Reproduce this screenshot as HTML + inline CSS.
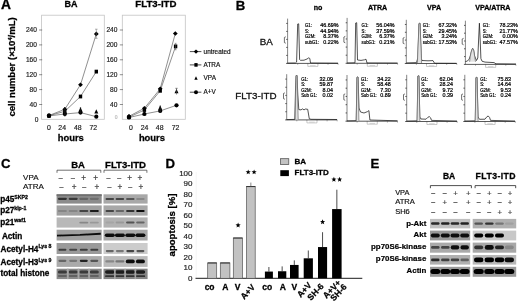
<!DOCTYPE html>
<html><head><meta charset="utf-8"><style>
html,body{margin:0;padding:0;background:#fff;}
body{width:520px;height:301px;overflow:hidden;}
svg{display:block;will-change:transform;font-family:"Liberation Sans", sans-serif;}
</style></head><body>
<svg width="520" height="301" viewBox="0 0 520 301">
<defs><filter id="bl" x="-20%" y="-50%" width="140%" height="200%"><feGaussianBlur stdDeviation="0.6"/></filter></defs>
<rect width="520" height="301" fill="#fff"/>
<text x="1.0" y="9.2" font-size="13.8" font-weight="bold" fill="#000" stroke="#000" stroke-width="0.28">A</text>
<text x="71" y="7.0" font-size="9" font-weight="bold" text-anchor="middle" fill="#000" stroke="#000" stroke-width="0.28">BA</text>
<text x="155.9" y="7.0" font-size="9.7" font-weight="bold" text-anchor="middle" fill="#000" stroke="#000" stroke-width="0.28">FLT3-ITD</text>
<text transform="translate(15.0,66.9) rotate(-90)" font-size="9.6" font-weight="bold" text-anchor="middle" stroke="#000" stroke-width="0.28">cell number (×10<tspan font-size="5.5" dy="-3.2">4</tspan><tspan dy="3.2">/mL)</tspan></text>
<rect x="41.6" y="15.2" width="62.699999999999996" height="104.1" fill="none" stroke="#c4c4c4" stroke-width="0.8"/>
<line x1="39.1" y1="104.5" x2="42.2" y2="104.5" stroke="#444" stroke-width="0.6"/>
<text x="36.9" y="106.8" font-size="6.6" text-anchor="end" fill="#222" stroke="#222" stroke-width="0.18">40</text>
<line x1="39.1" y1="89.60000000000001" x2="42.2" y2="89.60000000000001" stroke="#444" stroke-width="0.6"/>
<text x="36.9" y="91.9" font-size="6.6" text-anchor="end" fill="#222" stroke="#222" stroke-width="0.18">80</text>
<line x1="39.1" y1="74.7" x2="42.2" y2="74.7" stroke="#444" stroke-width="0.6"/>
<text x="36.9" y="77.0" font-size="6.6" text-anchor="end" fill="#222" stroke="#222" stroke-width="0.18">120</text>
<line x1="39.1" y1="59.800000000000004" x2="42.2" y2="59.800000000000004" stroke="#444" stroke-width="0.6"/>
<text x="36.9" y="62.1" font-size="6.6" text-anchor="end" fill="#222" stroke="#222" stroke-width="0.18">160</text>
<line x1="39.1" y1="44.900000000000006" x2="42.2" y2="44.900000000000006" stroke="#444" stroke-width="0.6"/>
<text x="36.9" y="47.2" font-size="6.6" text-anchor="end" fill="#222" stroke="#222" stroke-width="0.18">200</text>
<line x1="39.1" y1="30.0" x2="42.2" y2="30.0" stroke="#444" stroke-width="0.6"/>
<text x="36.9" y="32.3" font-size="6.6" text-anchor="end" fill="#222" stroke="#222" stroke-width="0.18">240</text>
<rect x="122.3" y="15.2" width="63.000000000000014" height="104.1" fill="none" stroke="#c4c4c4" stroke-width="0.8"/>
<line x1="119.8" y1="104.5" x2="122.89999999999999" y2="104.5" stroke="#444" stroke-width="0.6"/>
<text x="117.4" y="106.8" font-size="6.6" text-anchor="end" fill="#222" stroke="#222" stroke-width="0.18">40</text>
<line x1="119.8" y1="89.60000000000001" x2="122.89999999999999" y2="89.60000000000001" stroke="#444" stroke-width="0.6"/>
<text x="117.4" y="91.9" font-size="6.6" text-anchor="end" fill="#222" stroke="#222" stroke-width="0.18">80</text>
<line x1="119.8" y1="74.7" x2="122.89999999999999" y2="74.7" stroke="#444" stroke-width="0.6"/>
<text x="117.4" y="77.0" font-size="6.6" text-anchor="end" fill="#222" stroke="#222" stroke-width="0.18">120</text>
<line x1="119.8" y1="59.800000000000004" x2="122.89999999999999" y2="59.800000000000004" stroke="#444" stroke-width="0.6"/>
<text x="117.4" y="62.1" font-size="6.6" text-anchor="end" fill="#222" stroke="#222" stroke-width="0.18">160</text>
<line x1="119.8" y1="44.900000000000006" x2="122.89999999999999" y2="44.900000000000006" stroke="#444" stroke-width="0.6"/>
<text x="117.4" y="47.2" font-size="6.6" text-anchor="end" fill="#222" stroke="#222" stroke-width="0.18">200</text>
<line x1="119.8" y1="30.0" x2="122.89999999999999" y2="30.0" stroke="#444" stroke-width="0.6"/>
<text x="117.4" y="32.3" font-size="6.6" text-anchor="end" fill="#222" stroke="#222" stroke-width="0.18">240</text>
<text x="38.4" y="121.8" font-size="6.6" text-anchor="end" fill="#222" stroke="#222" stroke-width="0.18">0</text>
<text x="117.6" y="119.0" font-size="5" text-anchor="end" fill="#bbb" stroke="#bbb" stroke-width="0.18">0</text>
<text x="48.9" y="129.7" font-size="6.9" text-anchor="middle" fill="#222" stroke="#222" stroke-width="0.18">0</text>
<text x="62.2" y="129.7" font-size="6.9" text-anchor="middle" fill="#222" stroke="#222" stroke-width="0.18">24</text>
<text x="77.8" y="129.7" font-size="6.9" text-anchor="middle" fill="#222" stroke="#222" stroke-width="0.18">48</text>
<text x="93.3" y="129.7" font-size="6.9" text-anchor="middle" fill="#222" stroke="#222" stroke-width="0.18">72</text>
<text x="130.8" y="129.7" font-size="6.9" text-anchor="middle" fill="#222" stroke="#222" stroke-width="0.18">0</text>
<text x="144.6" y="129.7" font-size="6.9" text-anchor="middle" fill="#222" stroke="#222" stroke-width="0.18">24</text>
<text x="159.7" y="129.7" font-size="6.9" text-anchor="middle" fill="#222" stroke="#222" stroke-width="0.18">48</text>
<text x="175.6" y="129.7" font-size="6.9" text-anchor="middle" fill="#222" stroke="#222" stroke-width="0.18">72</text>
<text x="70.8" y="141.2" font-size="9.4" font-weight="bold" text-anchor="middle" fill="#000" stroke="#000" stroke-width="0.28">hours</text>
<text x="151.9" y="141.2" font-size="9.4" font-weight="bold" text-anchor="middle" fill="#000" stroke="#000" stroke-width="0.28">hours</text>
<polyline points="49.0,115.9 64.8,114.0 80.5,112.6 96.3,116.7" fill="none" stroke="#444" stroke-width="0.6"/>
<polyline points="49.0,115.7 64.8,111.3 80.5,96.5 96.3,71.6" fill="none" stroke="#444" stroke-width="0.6"/>
<polyline points="49.0,115.5 64.8,109.3 80.5,84.7 96.3,33.9" fill="none" stroke="#444" stroke-width="0.6"/>
<circle cx="49.0" cy="115.9" r="2.1" fill="#000"/>
<circle cx="64.8" cy="114.0" r="2.1" fill="#000"/>
<circle cx="80.5" cy="112.6" r="2.1" fill="#000"/>
<circle cx="96.3" cy="116.7" r="2.1" fill="#000"/>
<path d="M47.0,117.3 L49.0,113.1 L51.0,117.3Z" fill="#000"/>
<path d="M62.8,114.1 L64.8,109.89999999999999 L66.8,114.1Z" fill="#000"/>
<path d="M78.5,111.6 L80.5,107.39999999999999 L82.5,111.6Z" fill="#000"/>
<path d="M94.3,113.39999999999999 L96.3,109.19999999999999 L98.3,113.39999999999999Z" fill="#000"/>
<rect x="47.3" y="113.8" width="3.4" height="3.8" fill="#000"/>
<rect x="63.099999999999994" y="109.39999999999999" width="3.4" height="3.8" fill="#000"/>
<rect x="78.8" y="94.6" width="3.4" height="3.8" fill="#000"/>
<rect x="94.6" y="69.69999999999999" width="3.4" height="3.8" fill="#000"/>
<path d="M46.6,115.5 L49.0,113.2 L51.4,115.5 L49.0,117.8Z" fill="#000"/>
<path d="M62.4,109.3 L64.8,107.0 L67.2,109.3 L64.8,111.6Z" fill="#000"/>
<path d="M78.1,84.7 L80.5,82.4 L82.9,84.7 L80.5,87.0Z" fill="#000"/>
<path d="M93.89999999999999,33.9 L96.3,31.599999999999998 L98.7,33.9 L96.3,36.199999999999996Z" fill="#000"/>
<polyline points="129.0,117.5 144.4,114.0 160.2,110.9 176.5,105.3" fill="none" stroke="#444" stroke-width="0.6"/>
<polyline points="129.0,117.2 144.4,110.0 160.2,90.8 175.6,46.4" fill="none" stroke="#444" stroke-width="0.6"/>
<polyline points="129.0,116.3 144.4,108.2 160.2,88.8 175.3,33.5" fill="none" stroke="#444" stroke-width="0.6"/>
<circle cx="129.0" cy="117.5" r="2.1" fill="#000"/>
<circle cx="144.4" cy="114.0" r="2.1" fill="#000"/>
<circle cx="160.2" cy="110.9" r="2.1" fill="#000"/>
<circle cx="176.5" cy="105.3" r="2.1" fill="#000"/>
<path d="M127.0,118.3 L129.0,114.1 L131.0,118.3Z" fill="#000"/>
<path d="M142.4,115.2 L144.4,111.0 L146.4,115.2Z" fill="#000"/>
<path d="M158.2,109.8 L160.2,105.6 L162.2,109.8Z" fill="#000"/>
<path d="M174.5,93.2 L176.5,89.0 L178.5,93.2Z" fill="#000"/>
<rect x="127.3" y="115.3" width="3.4" height="3.8" fill="#000"/>
<rect x="142.70000000000002" y="108.1" width="3.4" height="3.8" fill="#000"/>
<rect x="158.5" y="88.89999999999999" width="3.4" height="3.8" fill="#000"/>
<rect x="173.9" y="44.5" width="3.4" height="3.8" fill="#000"/>
<path d="M126.6,116.3 L129.0,114.0 L131.4,116.3 L129.0,118.6Z" fill="#000"/>
<path d="M142.0,108.2 L144.4,105.9 L146.8,108.2 L144.4,110.5Z" fill="#000"/>
<path d="M157.79999999999998,88.8 L160.2,86.5 L162.6,88.8 L160.2,91.1Z" fill="#000"/>
<path d="M172.9,33.5 L175.3,31.2 L177.70000000000002,33.5 L175.3,35.8Z" fill="#000"/>
<line x1="96.3" y1="29.2" x2="96.3" y2="38.3" stroke="#666" stroke-width="0.5"/>
<line x1="95" y1="29.2" x2="97.6" y2="29.2" stroke="#666" stroke-width="0.5"/>
<line x1="95" y1="38.3" x2="97.6" y2="38.3" stroke="#666" stroke-width="0.5"/>
<line x1="175.6" y1="43.3" x2="175.6" y2="49.8" stroke="#555" stroke-width="0.6"/>
<line x1="174.6" y1="43.3" x2="176.6" y2="43.3" stroke="#666" stroke-width="0.5"/>
<line x1="174.6" y1="49.8" x2="176.6" y2="49.8" stroke="#666" stroke-width="0.5"/>
<line x1="176.5" y1="88.3" x2="176.5" y2="94.5" stroke="#444" stroke-width="0.6"/>
<line x1="175.3" y1="88.3" x2="177.7" y2="88.3" stroke="#444" stroke-width="0.6"/>
<line x1="160.2" y1="105.5" x2="160.2" y2="113.0" stroke="#222" stroke-width="0.9"/>
<line x1="64.8" y1="107.4" x2="64.8" y2="116.3" stroke="#111" stroke-width="1.6"/>
<line x1="80.5" y1="107.4" x2="80.5" y2="113.3" stroke="#111" stroke-width="1.2"/>
<line x1="189.8" y1="51.6" x2="201.4" y2="51.6" stroke="#000" stroke-width="0.7"/>
<path d="M193.72,51.6 L196.0,49.415 L198.28,51.6 L196.0,53.785000000000004Z" fill="#000"/>
<text x="203.6" y="53.6" font-size="6.4" fill="#111" stroke="#111" stroke-width="0.18">untreated</text>
<line x1="189.8" y1="64.9" x2="201.4" y2="64.9" stroke="#000" stroke-width="0.7"/>
<rect x="194.385" y="63.095000000000006" width="3.23" height="3.61" fill="#000"/>
<text x="203.6" y="66.9" font-size="6.4" fill="#111" stroke="#111" stroke-width="0.18">ATRA</text>
<path d="M194.3,79.73 L196.0,76.16 L197.7,79.73Z" fill="#000"/>
<text x="203.6" y="80.2" font-size="6.4" fill="#111" stroke="#111" stroke-width="0.18">VPA</text>
<line x1="189.8" y1="92.2" x2="201.4" y2="92.2" stroke="#000" stroke-width="0.7"/>
<circle cx="196.0" cy="92.2" r="1.9949999999999999" fill="#000"/>
<text x="203.6" y="94.2" font-size="6.4" fill="#111" stroke="#111" stroke-width="0.18">A+V</text>
<text x="235.8" y="9.9" font-size="13.2" font-weight="bold" fill="#000" stroke="#000" stroke-width="0.28">B</text>
<text x="318" y="10.0" font-size="7.1" font-weight="bold" text-anchor="middle" fill="#000" stroke="#000" stroke-width="0.28">no</text>
<text x="377.6" y="10.0" font-size="7.1" font-weight="bold" text-anchor="middle" fill="#000" stroke="#000" stroke-width="0.28">ATRA</text>
<text x="434" y="10.0" font-size="7.1" font-weight="bold" text-anchor="middle" fill="#000" stroke="#000" stroke-width="0.28">VPA</text>
<text x="492.9" y="10.0" font-size="7.1" font-weight="bold" text-anchor="middle" fill="#000" stroke="#000" stroke-width="0.28">VPA/ATRA</text>
<text x="266.2" y="44.7" font-size="9.8" text-anchor="middle" fill="#111" stroke="#111" stroke-width="0.3">BA</text>
<text x="255.9" y="99.4" font-size="9.8" text-anchor="middle" fill="#111" stroke="#111" stroke-width="0.3">FLT3-ITD</text>
<line x1="286.20000000000005" y1="55.4" x2="287.6" y2="55.4" stroke="#333" stroke-width="0.8"/>
<line x1="286.20000000000005" y1="47.4" x2="287.6" y2="47.4" stroke="#333" stroke-width="0.8"/>
<line x1="286.20000000000005" y1="39.400000000000006" x2="287.6" y2="39.400000000000006" stroke="#333" stroke-width="0.8"/>
<line x1="286.20000000000005" y1="31.4" x2="287.6" y2="31.4" stroke="#333" stroke-width="0.8"/>
<line x1="286.20000000000005" y1="23.4" x2="287.6" y2="23.4" stroke="#333" stroke-width="0.8"/>
<path d="M285.8,36.8 L284.40000000000003,37.4 L284.40000000000003,42.6 L285.8,43.2" stroke="#333" stroke-width="0.7" fill="none"/>
<line x1="297.70000000000005" y1="63.4" x2="297.70000000000005" y2="64.9" stroke="#777" stroke-width="0.5"/>
<line x1="307.8" y1="63.4" x2="307.8" y2="64.9" stroke="#777" stroke-width="0.5"/>
<line x1="317.90000000000003" y1="63.4" x2="317.90000000000003" y2="64.9" stroke="#777" stroke-width="0.5"/>
<line x1="328.0" y1="63.4" x2="328.0" y2="64.9" stroke="#777" stroke-width="0.5"/>
<line x1="338.1" y1="63.4" x2="338.1" y2="64.9" stroke="#777" stroke-width="0.5"/>
<path d="M307.8,64.9 L307.8,66.4 L317.90000000000003,66.4 L317.90000000000003,64.9" stroke="#999" stroke-width="0.5" fill="none"/>
<line x1="310.1" y1="65.6" x2="315.6" y2="65.6" stroke="#bbb" stroke-width="0.6"/>
<line x1="287.6" y1="18.6" x2="287.6" y2="63.4" stroke="#333" stroke-width="0.6"/>
<line x1="286.1" y1="63.4" x2="338.1" y2="63.4" stroke="#222" stroke-width="0.75"/>
<path d="M287.6,63.1 L295.5,63.0 L296.6,62.0 L297.7,24.0 L298.7,23.8 L299.6,59.6 L300.5,60.3 L304,60.2 L307,59.0 L308.8,57.8 L309.8,58.5 L310.5,63.0 L338,63.2" stroke="#1a1a1a" stroke-width="0.75" fill="none"/>
<text x="305.0" y="27.0" font-size="5.4" fill="#000" stroke="#000" stroke-width="0.22" textLength="6.96" lengthAdjust="spacingAndGlyphs">G1:</text>
<text x="338.6" y="27.0" font-size="5.4" text-anchor="end" fill="#000" stroke="#000" stroke-width="0.22">46.69%</text>
<text x="305.0" y="32.6" font-size="5.4" fill="#000" stroke="#000" stroke-width="0.22" textLength="4.08" lengthAdjust="spacingAndGlyphs">S:</text>
<text x="338.6" y="32.6" font-size="5.4" text-anchor="end" fill="#000" stroke="#000" stroke-width="0.22">44.94%</text>
<text x="305.0" y="38.2" font-size="5.4" fill="#000" stroke="#000" stroke-width="0.22" textLength="10.56" lengthAdjust="spacingAndGlyphs">G2M:</text>
<text x="338.6" y="38.2" font-size="5.4" text-anchor="end" fill="#000" stroke="#000" stroke-width="0.22">8.37%</text>
<text x="305.0" y="43.8" font-size="5.4" fill="#000" stroke="#000" stroke-width="0.22" textLength="13.93" lengthAdjust="spacingAndGlyphs">subG1:</text>
<text x="338.6" y="43.8" font-size="5.4" text-anchor="end" fill="#000" stroke="#000" stroke-width="0.22">0.22%</text>
<line x1="345.70000000000005" y1="55.192857142857136" x2="347.1" y2="55.192857142857136" stroke="#333" stroke-width="0.8"/>
<line x1="345.70000000000005" y1="47.08571428571428" x2="347.1" y2="47.08571428571428" stroke="#333" stroke-width="0.8"/>
<line x1="345.70000000000005" y1="38.97857142857143" x2="347.1" y2="38.97857142857143" stroke="#333" stroke-width="0.8"/>
<line x1="345.70000000000005" y1="30.871428571428567" x2="347.1" y2="30.871428571428567" stroke="#333" stroke-width="0.8"/>
<line x1="345.70000000000005" y1="22.764285714285705" x2="347.1" y2="22.764285714285705" stroke="#333" stroke-width="0.8"/>
<path d="M345.3,36.39999999999999 L343.90000000000003,36.99999999999999 L343.90000000000003,42.199999999999996 L345.3,42.8" stroke="#333" stroke-width="0.7" fill="none"/>
<line x1="357.20000000000005" y1="63.3" x2="357.20000000000005" y2="64.8" stroke="#777" stroke-width="0.5"/>
<line x1="367.3" y1="63.3" x2="367.3" y2="64.8" stroke="#777" stroke-width="0.5"/>
<line x1="377.40000000000003" y1="63.3" x2="377.40000000000003" y2="64.8" stroke="#777" stroke-width="0.5"/>
<line x1="387.5" y1="63.3" x2="387.5" y2="64.8" stroke="#777" stroke-width="0.5"/>
<line x1="397.6" y1="63.3" x2="397.6" y2="64.8" stroke="#777" stroke-width="0.5"/>
<path d="M367.3,64.8 L367.3,66.3 L377.40000000000003,66.3 L377.40000000000003,64.8" stroke="#999" stroke-width="0.5" fill="none"/>
<line x1="369.6" y1="65.5" x2="375.1" y2="65.5" stroke="#bbb" stroke-width="0.6"/>
<line x1="347.1" y1="17.9" x2="347.1" y2="63.3" stroke="#333" stroke-width="0.6"/>
<line x1="345.6" y1="63.3" x2="397.6" y2="63.3" stroke="#222" stroke-width="0.75"/>
<path d="M347.1,63.0 L355.0,62.8 L355.7,23.0 L356.7,22.7 L357.5,60.0 L361,60.4 L364.5,59.8 L366.0,59.2 L367.0,63.0 L397.5,63.1" stroke="#1a1a1a" stroke-width="0.75" fill="none"/>
<text x="361.6" y="27.0" font-size="5.4" fill="#000" stroke="#000" stroke-width="0.22" textLength="6.96" lengthAdjust="spacingAndGlyphs">G1:</text>
<text x="394.6" y="27.0" font-size="5.4" text-anchor="end" fill="#000" stroke="#000" stroke-width="0.22">56.04%</text>
<text x="361.6" y="32.6" font-size="5.4" fill="#000" stroke="#000" stroke-width="0.22" textLength="4.08" lengthAdjust="spacingAndGlyphs">S:</text>
<text x="394.6" y="32.6" font-size="5.4" text-anchor="end" fill="#000" stroke="#000" stroke-width="0.22">37.59%</text>
<text x="361.6" y="38.2" font-size="5.4" fill="#000" stroke="#000" stroke-width="0.22" textLength="10.56" lengthAdjust="spacingAndGlyphs">G2M:</text>
<text x="394.6" y="38.2" font-size="5.4" text-anchor="end" fill="#000" stroke="#000" stroke-width="0.22">6.37%</text>
<text x="361.6" y="43.8" font-size="5.4" fill="#000" stroke="#000" stroke-width="0.22" textLength="13.93" lengthAdjust="spacingAndGlyphs">subG1:</text>
<text x="394.6" y="43.8" font-size="5.4" text-anchor="end" fill="#000" stroke="#000" stroke-width="0.22">0.21%</text>
<line x1="404.90000000000003" y1="55.69642857142857" x2="406.3" y2="55.69642857142857" stroke="#333" stroke-width="0.8"/>
<line x1="404.90000000000003" y1="47.89285714285714" x2="406.3" y2="47.89285714285714" stroke="#333" stroke-width="0.8"/>
<line x1="404.90000000000003" y1="40.08928571428571" x2="406.3" y2="40.08928571428571" stroke="#333" stroke-width="0.8"/>
<line x1="404.90000000000003" y1="32.28571428571428" x2="406.3" y2="32.28571428571428" stroke="#333" stroke-width="0.8"/>
<line x1="404.90000000000003" y1="24.482142857142854" x2="406.3" y2="24.482142857142854" stroke="#333" stroke-width="0.8"/>
<path d="M404.5,37.449999999999996 L403.1,38.05 L403.1,43.25 L404.5,43.85" stroke="#333" stroke-width="0.7" fill="none"/>
<line x1="416.40000000000003" y1="63.5" x2="416.40000000000003" y2="65.0" stroke="#777" stroke-width="0.5"/>
<line x1="426.5" y1="63.5" x2="426.5" y2="65.0" stroke="#777" stroke-width="0.5"/>
<line x1="436.6" y1="63.5" x2="436.6" y2="65.0" stroke="#777" stroke-width="0.5"/>
<line x1="446.7" y1="63.5" x2="446.7" y2="65.0" stroke="#777" stroke-width="0.5"/>
<line x1="456.8" y1="63.5" x2="456.8" y2="65.0" stroke="#777" stroke-width="0.5"/>
<path d="M426.5,65.0 L426.5,66.5 L436.6,66.5 L436.6,65.0" stroke="#999" stroke-width="0.5" fill="none"/>
<line x1="428.8" y1="65.7" x2="434.3" y2="65.7" stroke="#bbb" stroke-width="0.6"/>
<line x1="406.3" y1="19.8" x2="406.3" y2="63.5" stroke="#333" stroke-width="0.6"/>
<line x1="404.8" y1="63.5" x2="456.8" y2="63.5" stroke="#222" stroke-width="0.75"/>
<path d="M406.3,62.9 L416.5,62.6 L417.8,58 L419.0,23.5 L420.0,23.2 L421.3,58.5 L422,60.5 L428,60.8 L433.0,60.6 L434.5,63.2 L456.5,63.3" stroke="#1a1a1a" stroke-width="0.75" fill="none"/>
<path d="M417.4,63 L419.0,23.5 L420.0,23.2 L421.6,63" fill="#e2e2e2" stroke="#6a6a6a" stroke-width="0.7"/>
<text x="422.7" y="27.0" font-size="5.4" fill="#000" stroke="#000" stroke-width="0.22" textLength="6.96" lengthAdjust="spacingAndGlyphs">G1:</text>
<text x="456.8" y="27.0" font-size="5.4" text-anchor="end" fill="#000" stroke="#000" stroke-width="0.22">67.32%</text>
<text x="422.7" y="32.6" font-size="5.4" fill="#000" stroke="#000" stroke-width="0.22" textLength="4.08" lengthAdjust="spacingAndGlyphs">S:</text>
<text x="456.8" y="32.6" font-size="5.4" text-anchor="end" fill="#000" stroke="#000" stroke-width="0.22">29.45%</text>
<text x="422.7" y="38.2" font-size="5.4" fill="#000" stroke="#000" stroke-width="0.22" textLength="10.56" lengthAdjust="spacingAndGlyphs">G2M:</text>
<text x="456.8" y="38.2" font-size="5.4" text-anchor="end" fill="#000" stroke="#000" stroke-width="0.22">3.24%</text>
<text x="422.7" y="43.8" font-size="5.4" fill="#000" stroke="#000" stroke-width="0.22" textLength="13.93" lengthAdjust="spacingAndGlyphs">subG1:</text>
<text x="456.8" y="43.8" font-size="5.4" text-anchor="end" fill="#000" stroke="#000" stroke-width="0.22">17.53%</text>
<line x1="464.0" y1="56.596428571428575" x2="465.4" y2="56.596428571428575" stroke="#333" stroke-width="0.8"/>
<line x1="464.0" y1="48.792857142857144" x2="465.4" y2="48.792857142857144" stroke="#333" stroke-width="0.8"/>
<line x1="464.0" y1="40.989285714285714" x2="465.4" y2="40.989285714285714" stroke="#333" stroke-width="0.8"/>
<line x1="464.0" y1="33.18571428571428" x2="465.4" y2="33.18571428571428" stroke="#333" stroke-width="0.8"/>
<line x1="464.0" y1="25.38214285714286" x2="465.4" y2="25.38214285714286" stroke="#333" stroke-width="0.8"/>
<path d="M463.59999999999997,38.35 L462.2,38.95 L462.2,44.150000000000006 L463.59999999999997,44.75000000000001" stroke="#333" stroke-width="0.7" fill="none"/>
<line x1="475.5" y1="64.4" x2="475.5" y2="65.9" stroke="#777" stroke-width="0.5"/>
<line x1="485.59999999999997" y1="64.4" x2="485.59999999999997" y2="65.9" stroke="#777" stroke-width="0.5"/>
<line x1="495.7" y1="64.4" x2="495.7" y2="65.9" stroke="#777" stroke-width="0.5"/>
<line x1="505.79999999999995" y1="64.4" x2="505.79999999999995" y2="65.9" stroke="#777" stroke-width="0.5"/>
<line x1="515.9" y1="64.4" x2="515.9" y2="65.9" stroke="#777" stroke-width="0.5"/>
<path d="M485.59999999999997,65.9 L485.59999999999997,67.4 L495.7,67.4 L495.7,65.9" stroke="#999" stroke-width="0.5" fill="none"/>
<line x1="487.9" y1="66.60000000000001" x2="493.4" y2="66.60000000000001" stroke="#bbb" stroke-width="0.6"/>
<line x1="465.4" y1="20.7" x2="465.4" y2="64.4" stroke="#333" stroke-width="0.6"/>
<line x1="463.9" y1="64.4" x2="515.9" y2="64.4" stroke="#222" stroke-width="0.75"/>
<path d="M465.4,61.5 L467,61.2 L469,59.5 L470.3,56 L471.5,51 L472.6,48.3 L473.6,50 L474.6,56 L476.5,60.5 L477.8,58 L478.6,40 L479.4,23.2 L480.2,40 L480.9,58.5 L482,61.2 L485,62.1 L494,62.6 L496,63.8 L516,64.0" stroke="#1a1a1a" stroke-width="0.75" fill="none"/>
<path d="M469.6,61.8 L470.3,56 L471.5,51 L472.6,48.3 L473.6,50 L474.6,56 L475.5,61.8" fill="#e2e2e2" stroke="#6a6a6a" stroke-width="0.7"/>
<text x="482.7" y="27.0" font-size="5.4" fill="#000" stroke="#000" stroke-width="0.22" textLength="6.96" lengthAdjust="spacingAndGlyphs">G1:</text>
<text x="517.8" y="27.0" font-size="5.4" text-anchor="end" fill="#000" stroke="#000" stroke-width="0.22">78.23%</text>
<text x="482.7" y="32.6" font-size="5.4" fill="#000" stroke="#000" stroke-width="0.22" textLength="4.08" lengthAdjust="spacingAndGlyphs">S:</text>
<text x="517.8" y="32.6" font-size="5.4" text-anchor="end" fill="#000" stroke="#000" stroke-width="0.22">21.77%</text>
<text x="482.7" y="38.2" font-size="5.4" fill="#000" stroke="#000" stroke-width="0.22" textLength="10.56" lengthAdjust="spacingAndGlyphs">G2M:</text>
<text x="517.8" y="38.2" font-size="5.4" text-anchor="end" fill="#000" stroke="#000" stroke-width="0.22">0.00%</text>
<text x="482.7" y="43.8" font-size="5.4" fill="#000" stroke="#000" stroke-width="0.22" textLength="13.93" lengthAdjust="spacingAndGlyphs">subG1:</text>
<text x="517.8" y="43.8" font-size="5.4" text-anchor="end" fill="#000" stroke="#000" stroke-width="0.22">47.57%</text>
<line x1="285.3" y1="111.73928571428571" x2="286.7" y2="111.73928571428571" stroke="#333" stroke-width="0.8"/>
<line x1="285.3" y1="103.57857142857144" x2="286.7" y2="103.57857142857144" stroke="#333" stroke-width="0.8"/>
<line x1="285.3" y1="95.41785714285714" x2="286.7" y2="95.41785714285714" stroke="#333" stroke-width="0.8"/>
<line x1="285.3" y1="87.25714285714287" x2="286.7" y2="87.25714285714287" stroke="#333" stroke-width="0.8"/>
<line x1="285.3" y1="79.09642857142858" x2="286.7" y2="79.09642857142858" stroke="#333" stroke-width="0.8"/>
<path d="M284.9,92.85000000000001 L283.5,93.45000000000002 L283.5,98.65 L284.9,99.25000000000001" stroke="#333" stroke-width="0.7" fill="none"/>
<line x1="296.8" y1="119.9" x2="296.8" y2="121.4" stroke="#777" stroke-width="0.5"/>
<line x1="306.9" y1="119.9" x2="306.9" y2="121.4" stroke="#777" stroke-width="0.5"/>
<line x1="317.0" y1="119.9" x2="317.0" y2="121.4" stroke="#777" stroke-width="0.5"/>
<line x1="327.09999999999997" y1="119.9" x2="327.09999999999997" y2="121.4" stroke="#777" stroke-width="0.5"/>
<line x1="337.2" y1="119.9" x2="337.2" y2="121.4" stroke="#777" stroke-width="0.5"/>
<path d="M306.9,121.4 L306.9,122.9 L317.0,122.9 L317.0,121.4" stroke="#999" stroke-width="0.5" fill="none"/>
<line x1="309.2" y1="122.10000000000001" x2="314.7" y2="122.10000000000001" stroke="#bbb" stroke-width="0.6"/>
<line x1="286.7" y1="74.2" x2="286.7" y2="119.9" stroke="#333" stroke-width="0.6"/>
<line x1="285.2" y1="119.9" x2="337.2" y2="119.9" stroke="#222" stroke-width="0.75"/>
<path d="M286.7,119.6 L294.8,119.4 L295.5,90 L296.1,75.6 L297.0,75.4 L297.8,95 L298.8,109.6 L301,109.9 L302.5,108.9 L304,109.9 L305.5,109.0 L307.7,109.3 L309.3,118.8 L311,119.3 L337,119.5" stroke="#1a1a1a" stroke-width="0.75" fill="none"/>
<path d="M295.2,119.4 L296.1,75.6 L297.0,75.4 L298.2,119.4" fill="#e2e2e2" stroke="#6a6a6a" stroke-width="0.7"/>
<text x="301.2" y="81.0" font-size="5.4" fill="#000" stroke="#000" stroke-width="0.22" textLength="6.96" lengthAdjust="spacingAndGlyphs">G1:</text>
<text x="333.0" y="81.0" font-size="5.4" text-anchor="end" fill="#000" stroke="#000" stroke-width="0.22">32.09</text>
<text x="301.2" y="86.45" font-size="5.4" fill="#000" stroke="#000" stroke-width="0.22" textLength="4.08" lengthAdjust="spacingAndGlyphs">S:</text>
<text x="333.0" y="86.45" font-size="5.4" text-anchor="end" fill="#000" stroke="#000" stroke-width="0.22">59.87</text>
<text x="301.2" y="91.9" font-size="5.4" fill="#000" stroke="#000" stroke-width="0.22" textLength="10.56" lengthAdjust="spacingAndGlyphs">G2M:</text>
<text x="333.0" y="91.9" font-size="5.4" text-anchor="end" fill="#000" stroke="#000" stroke-width="0.22">8.04</text>
<text x="301.2" y="97.35" font-size="5.4" fill="#000" stroke="#000" stroke-width="0.22" textLength="15.85" lengthAdjust="spacingAndGlyphs">Sub G1:</text>
<text x="333.0" y="97.35" font-size="5.4" text-anchor="end" fill="#000" stroke="#000" stroke-width="0.22">0.02</text>
<line x1="345.6" y1="112.95" x2="347.0" y2="112.95" stroke="#333" stroke-width="0.8"/>
<line x1="345.6" y1="104.7" x2="347.0" y2="104.7" stroke="#333" stroke-width="0.8"/>
<line x1="345.6" y1="96.44999999999999" x2="347.0" y2="96.44999999999999" stroke="#333" stroke-width="0.8"/>
<line x1="345.6" y1="88.19999999999999" x2="347.0" y2="88.19999999999999" stroke="#333" stroke-width="0.8"/>
<line x1="345.6" y1="79.95" x2="347.0" y2="79.95" stroke="#333" stroke-width="0.8"/>
<path d="M345.2,93.89999999999999 L343.8,94.5 L343.8,99.69999999999999 L345.2,100.3" stroke="#333" stroke-width="0.7" fill="none"/>
<line x1="357.1" y1="121.2" x2="357.1" y2="122.7" stroke="#777" stroke-width="0.5"/>
<line x1="367.2" y1="121.2" x2="367.2" y2="122.7" stroke="#777" stroke-width="0.5"/>
<line x1="377.3" y1="121.2" x2="377.3" y2="122.7" stroke="#777" stroke-width="0.5"/>
<line x1="387.4" y1="121.2" x2="387.4" y2="122.7" stroke="#777" stroke-width="0.5"/>
<line x1="397.5" y1="121.2" x2="397.5" y2="122.7" stroke="#777" stroke-width="0.5"/>
<path d="M367.2,122.7 L367.2,124.2 L377.3,124.2 L377.3,122.7" stroke="#999" stroke-width="0.5" fill="none"/>
<line x1="369.5" y1="123.4" x2="375.0" y2="123.4" stroke="#bbb" stroke-width="0.6"/>
<line x1="347.0" y1="75.0" x2="347.0" y2="121.2" stroke="#333" stroke-width="0.6"/>
<line x1="345.5" y1="121.2" x2="397.5" y2="121.2" stroke="#222" stroke-width="0.75"/>
<path d="M347,120.9 L356.2,120.7 L357.0,77.2 L358.0,77.0 L359.0,108 L360.5,112.0 L364,113.0 L367.5,111.6 L368.9,110.6 L369.9,120.0 L397.5,120.8" stroke="#1a1a1a" stroke-width="0.75" fill="none"/>
<path d="M356.3,120.8 L357.0,77.2 L358.0,77.0 L358.9,120.8" fill="#e2e2e2" stroke="#6a6a6a" stroke-width="0.7"/>
<text x="360.9" y="81.0" font-size="5.4" fill="#000" stroke="#000" stroke-width="0.22" textLength="6.96" lengthAdjust="spacingAndGlyphs">G1:</text>
<text x="390.8" y="81.0" font-size="5.4" text-anchor="end" fill="#000" stroke="#000" stroke-width="0.22">34.22</text>
<text x="360.9" y="86.45" font-size="5.4" fill="#000" stroke="#000" stroke-width="0.22" textLength="4.08" lengthAdjust="spacingAndGlyphs">S:</text>
<text x="390.8" y="86.45" font-size="5.4" text-anchor="end" fill="#000" stroke="#000" stroke-width="0.22">58.48</text>
<text x="360.9" y="91.9" font-size="5.4" fill="#000" stroke="#000" stroke-width="0.22" textLength="10.56" lengthAdjust="spacingAndGlyphs">G2M:</text>
<text x="390.8" y="91.9" font-size="5.4" text-anchor="end" fill="#000" stroke="#000" stroke-width="0.22">7.30</text>
<text x="360.9" y="97.35" font-size="5.4" fill="#000" stroke="#000" stroke-width="0.22" textLength="15.85" lengthAdjust="spacingAndGlyphs">Sub G1:</text>
<text x="390.8" y="97.35" font-size="5.4" text-anchor="end" fill="#000" stroke="#000" stroke-width="0.22">0.89</text>
<line x1="405.3" y1="113.16071428571428" x2="406.7" y2="113.16071428571428" stroke="#333" stroke-width="0.8"/>
<line x1="405.3" y1="104.82142857142857" x2="406.7" y2="104.82142857142857" stroke="#333" stroke-width="0.8"/>
<line x1="405.3" y1="96.48214285714285" x2="406.7" y2="96.48214285714285" stroke="#333" stroke-width="0.8"/>
<line x1="405.3" y1="88.14285714285714" x2="406.7" y2="88.14285714285714" stroke="#333" stroke-width="0.8"/>
<line x1="405.3" y1="79.80357142857142" x2="406.7" y2="79.80357142857142" stroke="#333" stroke-width="0.8"/>
<path d="M404.9,93.95 L403.5,94.55000000000001 L403.5,99.75 L404.9,100.35000000000001" stroke="#333" stroke-width="0.7" fill="none"/>
<line x1="416.8" y1="121.5" x2="416.8" y2="123.0" stroke="#777" stroke-width="0.5"/>
<line x1="426.9" y1="121.5" x2="426.9" y2="123.0" stroke="#777" stroke-width="0.5"/>
<line x1="437.0" y1="121.5" x2="437.0" y2="123.0" stroke="#777" stroke-width="0.5"/>
<line x1="447.09999999999997" y1="121.5" x2="447.09999999999997" y2="123.0" stroke="#777" stroke-width="0.5"/>
<line x1="457.2" y1="121.5" x2="457.2" y2="123.0" stroke="#777" stroke-width="0.5"/>
<path d="M426.9,123.0 L426.9,124.5 L437.0,124.5 L437.0,123.0" stroke="#999" stroke-width="0.5" fill="none"/>
<line x1="429.2" y1="123.7" x2="434.7" y2="123.7" stroke="#bbb" stroke-width="0.6"/>
<line x1="406.7" y1="74.8" x2="406.7" y2="121.5" stroke="#333" stroke-width="0.6"/>
<line x1="405.2" y1="121.5" x2="457.2" y2="121.5" stroke="#222" stroke-width="0.75"/>
<path d="M406.7,121.0 L417.2,120.8 L417.9,76.0 L418.9,75.8 L419.8,117 L421,119.0 L426,119.2 L428,117.2 L429.3,116.6 L430.6,117.8 L431.5,120.4 L457,121" stroke="#1a1a1a" stroke-width="0.75" fill="none"/>
<path d="M417.1,121 L417.9,76.0 L418.9,75.8 L419.9,121" fill="#e2e2e2" stroke="#6a6a6a" stroke-width="0.7"/>
<text x="421.2" y="81.0" font-size="5.4" fill="#000" stroke="#000" stroke-width="0.22" textLength="6.96" lengthAdjust="spacingAndGlyphs">G1:</text>
<text x="453.0" y="81.0" font-size="5.4" text-anchor="end" fill="#000" stroke="#000" stroke-width="0.22">62.04</text>
<text x="421.2" y="86.45" font-size="5.4" fill="#000" stroke="#000" stroke-width="0.22" textLength="4.08" lengthAdjust="spacingAndGlyphs">S:</text>
<text x="453.0" y="86.45" font-size="5.4" text-anchor="end" fill="#000" stroke="#000" stroke-width="0.22">28.24</text>
<text x="421.2" y="91.9" font-size="5.4" fill="#000" stroke="#000" stroke-width="0.22" textLength="10.56" lengthAdjust="spacingAndGlyphs">G2M:</text>
<text x="453.0" y="91.9" font-size="5.4" text-anchor="end" fill="#000" stroke="#000" stroke-width="0.22">9.72</text>
<text x="421.2" y="97.35" font-size="5.4" fill="#000" stroke="#000" stroke-width="0.22" textLength="15.85" lengthAdjust="spacingAndGlyphs">Sub G1:</text>
<text x="453.0" y="97.35" font-size="5.4" text-anchor="end" fill="#000" stroke="#000" stroke-width="0.22">0.39</text>
<line x1="463.40000000000003" y1="113.16071428571428" x2="464.8" y2="113.16071428571428" stroke="#333" stroke-width="0.8"/>
<line x1="463.40000000000003" y1="104.82142857142857" x2="464.8" y2="104.82142857142857" stroke="#333" stroke-width="0.8"/>
<line x1="463.40000000000003" y1="96.48214285714285" x2="464.8" y2="96.48214285714285" stroke="#333" stroke-width="0.8"/>
<line x1="463.40000000000003" y1="88.14285714285714" x2="464.8" y2="88.14285714285714" stroke="#333" stroke-width="0.8"/>
<line x1="463.40000000000003" y1="79.80357142857142" x2="464.8" y2="79.80357142857142" stroke="#333" stroke-width="0.8"/>
<path d="M463.0,93.95 L461.6,94.55000000000001 L461.6,99.75 L463.0,100.35000000000001" stroke="#333" stroke-width="0.7" fill="none"/>
<line x1="474.90000000000003" y1="121.5" x2="474.90000000000003" y2="123.0" stroke="#777" stroke-width="0.5"/>
<line x1="485.0" y1="121.5" x2="485.0" y2="123.0" stroke="#777" stroke-width="0.5"/>
<line x1="495.1" y1="121.5" x2="495.1" y2="123.0" stroke="#777" stroke-width="0.5"/>
<line x1="505.2" y1="121.5" x2="505.2" y2="123.0" stroke="#777" stroke-width="0.5"/>
<line x1="515.3" y1="121.5" x2="515.3" y2="123.0" stroke="#777" stroke-width="0.5"/>
<path d="M485.0,123.0 L485.0,124.5 L495.1,124.5 L495.1,123.0" stroke="#999" stroke-width="0.5" fill="none"/>
<line x1="487.3" y1="123.7" x2="492.8" y2="123.7" stroke="#bbb" stroke-width="0.6"/>
<line x1="464.8" y1="74.8" x2="464.8" y2="121.5" stroke="#333" stroke-width="0.6"/>
<line x1="463.3" y1="121.5" x2="515.3" y2="121.5" stroke="#222" stroke-width="0.75"/>
<path d="M464.8,121.0 L475.3,120.8 L476.0,77.5 L477.0,77.3 L478,117 L479.5,119.3 L485,119.2 L487,116.6 L488.2,116.0 L489.6,117.5 L490.5,120.4 L515,121" stroke="#1a1a1a" stroke-width="0.75" fill="none"/>
<path d="M475.2,121 L476.0,77.5 L477.0,77.3 L478.1,121" fill="#e2e2e2" stroke="#6a6a6a" stroke-width="0.7"/>
<text x="480.2" y="81.0" font-size="5.4" fill="#000" stroke="#000" stroke-width="0.22" textLength="6.96" lengthAdjust="spacingAndGlyphs">G1:</text>
<text x="511.0" y="81.0" font-size="5.4" text-anchor="end" fill="#000" stroke="#000" stroke-width="0.22">75.83</text>
<text x="480.2" y="86.45" font-size="5.4" fill="#000" stroke="#000" stroke-width="0.22" textLength="4.08" lengthAdjust="spacingAndGlyphs">S:</text>
<text x="511.0" y="86.45" font-size="5.4" text-anchor="end" fill="#000" stroke="#000" stroke-width="0.22">14.64</text>
<text x="480.2" y="91.9" font-size="5.4" fill="#000" stroke="#000" stroke-width="0.22" textLength="10.56" lengthAdjust="spacingAndGlyphs">G2M:</text>
<text x="511.0" y="91.9" font-size="5.4" text-anchor="end" fill="#000" stroke="#000" stroke-width="0.22">9.53</text>
<text x="480.2" y="97.35" font-size="5.4" fill="#000" stroke="#000" stroke-width="0.22" textLength="15.85" lengthAdjust="spacingAndGlyphs">Sub G1:</text>
<text x="511.0" y="97.35" font-size="5.4" text-anchor="end" fill="#000" stroke="#000" stroke-width="0.22">0.24</text>
<text x="1.0" y="168.3" font-size="13.2" font-weight="bold" fill="#000" stroke="#000" stroke-width="0.28">C</text>
<text x="78.1" y="168.2" font-size="9.5" font-weight="bold" text-anchor="middle" fill="#000" stroke="#000" stroke-width="0.28">BA</text>
<text x="125.5" y="168.2" font-size="9.6" font-weight="bold" text-anchor="middle" fill="#000" stroke="#000" stroke-width="0.28">FLT3-ITD</text>
<path d="M57,172.8 L57,170.2 L100.8,170.2 L100.8,172.8" stroke="#333" stroke-width="0.7" fill="none"/>
<path d="M104,172.8 L104,170.2 L146.9,170.2 L146.9,172.8" stroke="#333" stroke-width="0.7" fill="none"/>
<text x="38.5" y="180.4" font-size="8" text-anchor="end" fill="#111" stroke="#111" stroke-width="0.18">VPA</text>
<text x="43.8" y="189.4" font-size="8" text-anchor="end" fill="#111" stroke="#111" stroke-width="0.18">ATRA</text>
<text x="60.8" y="180.7" font-size="8.2" text-anchor="middle" fill="#3a3a3a" stroke="#3a3a3a" stroke-width="0.18">−</text>
<text x="73.2" y="180.7" font-size="8.2" text-anchor="middle" fill="#3a3a3a" stroke="#3a3a3a" stroke-width="0.18">−</text>
<text x="83.6" y="180.7" font-size="8.2" text-anchor="middle" fill="#3a3a3a" stroke="#3a3a3a" stroke-width="0.18">+</text>
<text x="95.7" y="180.7" font-size="8.2" text-anchor="middle" fill="#3a3a3a" stroke="#3a3a3a" stroke-width="0.18">+</text>
<text x="108.7" y="180.7" font-size="8.2" text-anchor="middle" fill="#3a3a3a" stroke="#3a3a3a" stroke-width="0.18">−</text>
<text x="119.3" y="180.7" font-size="8.2" text-anchor="middle" fill="#3a3a3a" stroke="#3a3a3a" stroke-width="0.18">−</text>
<text x="129.6" y="180.7" font-size="8.2" text-anchor="middle" fill="#3a3a3a" stroke="#3a3a3a" stroke-width="0.18">+</text>
<text x="139.9" y="180.7" font-size="8.2" text-anchor="middle" fill="#3a3a3a" stroke="#3a3a3a" stroke-width="0.18">+</text>
<text x="61.7" y="189.9" font-size="8.2" text-anchor="middle" fill="#3a3a3a" stroke="#3a3a3a" stroke-width="0.18">−</text>
<text x="74.2" y="189.9" font-size="8.2" text-anchor="middle" fill="#3a3a3a" stroke="#3a3a3a" stroke-width="0.18">+</text>
<text x="84.4" y="189.9" font-size="8.2" text-anchor="middle" fill="#3a3a3a" stroke="#3a3a3a" stroke-width="0.18">−</text>
<text x="97.0" y="189.9" font-size="8.2" text-anchor="middle" fill="#3a3a3a" stroke="#3a3a3a" stroke-width="0.18">+</text>
<text x="109.6" y="189.9" font-size="8.2" text-anchor="middle" fill="#3a3a3a" stroke="#3a3a3a" stroke-width="0.18">−</text>
<text x="119.9" y="189.9" font-size="8.2" text-anchor="middle" fill="#3a3a3a" stroke="#3a3a3a" stroke-width="0.18">+</text>
<text x="130.3" y="189.9" font-size="8.2" text-anchor="middle" fill="#3a3a3a" stroke="#3a3a3a" stroke-width="0.18">−</text>
<text x="140.9" y="189.9" font-size="8.2" text-anchor="middle" fill="#3a3a3a" stroke="#3a3a3a" stroke-width="0.18">+</text>
<rect x="56.6" y="194.3" width="45.1" height="9.299999999999983" fill="#8c8c8c"/>
<rect x="57.90" y="197.70" width="9" height="2.2" rx="1.10" fill="#333" filter="url(#bl)"/>
<rect x="68.70" y="197.70" width="9" height="2.2" rx="1.10" fill="#3a3a3a" filter="url(#bl)"/>
<rect x="79.30" y="197.70" width="9" height="2.2" rx="1.10" fill="#666" filter="url(#bl)"/>
<rect x="89.80" y="197.70" width="9" height="2.2" rx="1.10" fill="#6e6e6e" filter="url(#bl)"/>
<rect x="103.5" y="194.3" width="44.099999999999994" height="9.299999999999983" fill="#a8a8a8"/>
<rect x="105.55" y="198.00" width="8.5" height="2.0" rx="1.00" fill="#444" filter="url(#bl)"/>
<rect x="115.65" y="198.00" width="8.5" height="2.0" rx="1.00" fill="#444" filter="url(#bl)"/>
<rect x="126.05" y="198.00" width="8.5" height="2.0" rx="1.00" fill="#555" filter="url(#bl)"/>
<rect x="136.15" y="198.00" width="8.5" height="2.0" rx="1.00" fill="#888" filter="url(#bl)"/>
<rect x="56.6" y="205.4" width="45.1" height="10.199999999999989" fill="#a0a0a0"/>
<rect x="57.90" y="210.10" width="9" height="2.0" rx="1.00" fill="#858585" filter="url(#bl)"/>
<rect x="68.70" y="210.10" width="9" height="2.0" rx="1.00" fill="#858585" filter="url(#bl)"/>
<rect x="79.30" y="210.10" width="9" height="2.0" rx="1.00" fill="#444" filter="url(#bl)"/>
<rect x="89.80" y="210.10" width="9" height="2.0" rx="1.00" fill="#1a1a1a" filter="url(#bl)"/>
<rect x="103.5" y="205.4" width="44.099999999999994" height="10.199999999999989" fill="#a8a8a8"/>
<rect x="105.55" y="209.90" width="8.5" height="2.0" rx="1.00" fill="#444" filter="url(#bl)"/>
<rect x="115.65" y="209.90" width="8.5" height="2.0" rx="1.00" fill="#666" filter="url(#bl)"/>
<rect x="126.05" y="209.90" width="8.5" height="2.0" rx="1.00" fill="#333" filter="url(#bl)"/>
<rect x="136.15" y="209.90" width="8.5" height="2.0" rx="1.00" fill="#111" filter="url(#bl)"/>
<rect x="56.6" y="217.4" width="45.1" height="10.199999999999989" fill="#b8b8b8"/>
<rect x="79.30" y="221.70" width="9" height="1.8" rx="0.90" fill="#888" filter="url(#bl)"/>
<rect x="89.80" y="221.70" width="9" height="1.8" rx="0.90" fill="#999" filter="url(#bl)"/>
<rect x="103.5" y="217.4" width="44.099999999999994" height="10.199999999999989" fill="#b2b2b2"/>
<rect x="105.55" y="221.60" width="8.5" height="2.0" rx="1.00" fill="#a5a5a5" filter="url(#bl)"/>
<rect x="115.65" y="221.60" width="8.5" height="2.0" rx="1.00" fill="#999" filter="url(#bl)"/>
<rect x="126.05" y="221.60" width="8.5" height="2.0" rx="1.00" fill="#555" filter="url(#bl)"/>
<rect x="136.15" y="221.60" width="8.5" height="2.0" rx="1.00" fill="#666" filter="url(#bl)"/>
<rect x="56.6" y="229.7" width="45.1" height="10.800000000000011" fill="#a0a0a0"/>
<rect x="103.5" y="229.7" width="44.099999999999994" height="10.800000000000011" fill="#a8a8a8"/>
<rect x="104.80" y="233.40" width="10" height="3.6" rx="1.80" fill="#111" filter="url(#bl)"/>
<rect x="114.90" y="233.40" width="10" height="3.6" rx="1.80" fill="#111" filter="url(#bl)"/>
<rect x="125.30" y="233.40" width="10" height="3.6" rx="1.80" fill="#111" filter="url(#bl)"/>
<rect x="135.40" y="233.40" width="10" height="3.6" rx="1.80" fill="#0a0a0a" filter="url(#bl)"/>
<rect x="56.6" y="243.0" width="45.1" height="11.0" fill="#9a9a9a"/>
<rect x="58.40" y="248.85" width="8" height="1.9" rx="0.95" fill="#3c3c3c" filter="url(#bl)"/>
<rect x="69.20" y="248.85" width="8" height="1.9" rx="0.95" fill="#444" filter="url(#bl)"/>
<rect x="79.80" y="248.85" width="8" height="1.9" rx="0.95" fill="#3c3c3c" filter="url(#bl)"/>
<rect x="90.30" y="248.85" width="8" height="1.9" rx="0.95" fill="#3c3c3c" filter="url(#bl)"/>
<rect x="103.5" y="243.0" width="44.099999999999994" height="11.0" fill="#cccccc"/>
<rect x="105.80" y="250.00" width="8" height="2.2" rx="1.10" fill="#666" filter="url(#bl)"/>
<rect x="115.90" y="250.00" width="8" height="2.2" rx="1.10" fill="#777" filter="url(#bl)"/>
<rect x="126.30" y="250.00" width="8" height="2.2" rx="1.10" fill="#444" filter="url(#bl)"/>
<rect x="136.40" y="250.00" width="8" height="2.2" rx="1.10" fill="#555" filter="url(#bl)"/>
<rect x="56.6" y="256.1" width="45.1" height="10.799999999999955" fill="#aaaaaa"/>
<rect x="58.40" y="259.70" width="8" height="2.2" rx="1.10" fill="#666" filter="url(#bl)"/>
<rect x="69.20" y="259.70" width="8" height="2.2" rx="1.10" fill="#777" filter="url(#bl)"/>
<rect x="79.80" y="259.70" width="8" height="2.2" rx="1.10" fill="#222" filter="url(#bl)"/>
<rect x="90.30" y="259.70" width="8" height="2.2" rx="1.10" fill="#555" filter="url(#bl)"/>
<rect x="103.5" y="256.1" width="44.099999999999994" height="10.799999999999955" fill="#bbbbbb"/>
<rect x="105.30" y="260.30" width="9" height="2.2" rx="1.10" fill="#888" filter="url(#bl)"/>
<rect x="115.40" y="260.30" width="9" height="2.2" rx="1.10" fill="#777" filter="url(#bl)"/>
<rect x="125.80" y="259.50" width="9" height="3.8" rx="1.90" fill="#111" filter="url(#bl)"/>
<rect x="135.90" y="259.50" width="9" height="3.8" rx="1.90" fill="#111" filter="url(#bl)"/>
<rect x="56.6" y="268.7" width="45.1" height="10.400000000000034" fill="#8a8a8a"/>
<rect x="57.90" y="270.40" width="9" height="3.0" rx="1.50" fill="#3a3a3a" filter="url(#bl)"/>
<rect x="68.70" y="270.40" width="9" height="3.0" rx="1.50" fill="#3a3a3a" filter="url(#bl)"/>
<rect x="79.30" y="270.40" width="9" height="3.0" rx="1.50" fill="#3a3a3a" filter="url(#bl)"/>
<rect x="89.80" y="270.40" width="9" height="3.0" rx="1.50" fill="#3a3a3a" filter="url(#bl)"/>
<rect x="57.90" y="275.20" width="9" height="1.6" rx="0.80" fill="#555" filter="url(#bl)"/>
<rect x="68.70" y="275.20" width="9" height="1.6" rx="0.80" fill="#555" filter="url(#bl)"/>
<rect x="79.30" y="275.20" width="9" height="1.6" rx="0.80" fill="#555" filter="url(#bl)"/>
<rect x="89.80" y="275.20" width="9" height="1.6" rx="0.80" fill="#555" filter="url(#bl)"/>
<rect x="103.5" y="268.7" width="44.099999999999994" height="10.400000000000034" fill="#858585"/>
<rect x="105.05" y="270.30" width="9.5" height="3.4" rx="1.70" fill="#1a1a1a" filter="url(#bl)"/>
<rect x="115.15" y="270.30" width="9.5" height="3.4" rx="1.70" fill="#1a1a1a" filter="url(#bl)"/>
<rect x="125.55" y="270.30" width="9.5" height="3.4" rx="1.70" fill="#1a1a1a" filter="url(#bl)"/>
<rect x="135.65" y="270.30" width="9.5" height="3.4" rx="1.70" fill="#1a1a1a" filter="url(#bl)"/>
<rect x="105.05" y="275.30" width="9.5" height="1.8" rx="0.90" fill="#333" filter="url(#bl)"/>
<rect x="115.15" y="275.30" width="9.5" height="1.8" rx="0.90" fill="#333" filter="url(#bl)"/>
<rect x="125.55" y="275.30" width="9.5" height="1.8" rx="0.90" fill="#333" filter="url(#bl)"/>
<rect x="135.65" y="275.30" width="9.5" height="1.8" rx="0.90" fill="#333" filter="url(#bl)"/>
<rect x="56.6" y="194.3" width="45.1" height="1.8" fill="#707070" filter="url(#bl)"/>
<path d="M57,235.6 L80,234.9 L100.8,233.8" stroke="#111" stroke-width="1.9" fill="none" filter="url(#bl)"/>
<rect x="67.0" y="268.7" width="1.6" height="10.400000000000034" fill="#a8a8a8" opacity="0.9"/>
<rect x="77.7" y="268.7" width="1.6" height="10.400000000000034" fill="#a8a8a8" opacity="0.9"/>
<rect x="88.25" y="268.7" width="1.6" height="10.400000000000034" fill="#a8a8a8" opacity="0.9"/>
<rect x="114.05" y="268.7" width="1.6" height="10.400000000000034" fill="#a8a8a8" opacity="0.9"/>
<rect x="124.30000000000001" y="268.7" width="1.6" height="10.400000000000034" fill="#a8a8a8" opacity="0.9"/>
<rect x="134.55" y="268.7" width="1.6" height="10.400000000000034" fill="#a8a8a8" opacity="0.9"/>
<text x="0.2" y="202.0" font-size="8.2" font-weight="bold" stroke="#000" stroke-width="0.28">p45<tspan font-size="5.2" dy="-3.4">SKP2</tspan></text>
<text x="0.2" y="213.2" font-size="8.2" font-weight="bold" stroke="#000" stroke-width="0.28">p27<tspan font-size="5.2" dy="-3.4">kip-1</tspan></text>
<text x="0.2" y="225.3" font-size="8.2" font-weight="bold" stroke="#000" stroke-width="0.28">p21<tspan font-size="5.2" dy="-3.4">waf1</tspan></text>
<text x="1.9" y="238.8" font-size="8.2" font-weight="bold" fill="#000" stroke="#000" stroke-width="0.28">Actin</text>
<text x="0.6" y="251.7" font-size="8.2" font-weight="bold" stroke="#000" stroke-width="0.28">Acetyl-H4<tspan font-size="5.2" dy="-3.4">Lys 8</tspan></text>
<text x="0.6" y="264.9" font-size="8.2" font-weight="bold" stroke="#000" stroke-width="0.28">Acetyl-H3<tspan font-size="5.2" dy="-3.4">Lys 9</tspan></text>
<text x="0.6" y="275.8" font-size="8.2" font-weight="bold" fill="#000" stroke="#000" stroke-width="0.28">total histone</text>
<text x="165.6" y="168.2" font-size="13.2" font-weight="bold" fill="#000" stroke="#000" stroke-width="0.28">D</text>
<text x="192.5" y="280.8" font-size="8.0" text-anchor="end" fill="#222" stroke="#222" stroke-width="0.18">0</text>
<text x="192.5" y="270.28000000000003" font-size="8.0" text-anchor="end" fill="#222" stroke="#222" stroke-width="0.18">10</text>
<text x="192.5" y="259.76" font-size="8.0" text-anchor="end" fill="#222" stroke="#222" stroke-width="0.18">20</text>
<text x="192.5" y="249.24" font-size="8.0" text-anchor="end" fill="#222" stroke="#222" stroke-width="0.18">30</text>
<text x="192.5" y="238.72000000000003" font-size="8.0" text-anchor="end" fill="#222" stroke="#222" stroke-width="0.18">40</text>
<text x="192.5" y="228.20000000000002" font-size="8.0" text-anchor="end" fill="#222" stroke="#222" stroke-width="0.18">50</text>
<text x="192.5" y="217.68" font-size="8.0" text-anchor="end" fill="#222" stroke="#222" stroke-width="0.18">60</text>
<text x="192.5" y="207.16000000000003" font-size="8.0" text-anchor="end" fill="#222" stroke="#222" stroke-width="0.18">70</text>
<text x="192.5" y="196.64000000000001" font-size="8.0" text-anchor="end" fill="#222" stroke="#222" stroke-width="0.18">80</text>
<text x="192.5" y="186.12" font-size="8.0" text-anchor="end" fill="#222" stroke="#222" stroke-width="0.18">90</text>
<text x="192.5" y="175.60000000000002" font-size="8.0" text-anchor="end" fill="#222" stroke="#222" stroke-width="0.18">100</text>
<line x1="196.2" y1="172.10000000000002" x2="196.2" y2="278.3" stroke="#eeeeee" stroke-width="0.6"/>
<line x1="195.5" y1="278.3" x2="362.3" y2="278.3" stroke="#000" stroke-width="0.9"/>
<text transform="translate(175.0,225.0) rotate(-90)" font-size="9.6" font-weight="bold" text-anchor="middle" stroke="#000" stroke-width="0.28">apoptosis [%]</text>
<rect x="207.7" y="262.9408" width="9.0" height="15.359199999999987" fill="#c2c2c2" stroke="#555" stroke-width="0.7"/>
<line x1="207.7" y1="262.9408" x2="216.7" y2="262.9408" stroke="#333" stroke-width="1.0"/>
<rect x="220.3" y="262.9408" width="9.599999999999994" height="15.359199999999987" fill="#c2c2c2" stroke="#555" stroke-width="0.7"/>
<line x1="220.3" y1="262.9408" x2="229.9" y2="262.9408" stroke="#333" stroke-width="1.0"/>
<rect x="233.3" y="238.00840000000002" width="9.199999999999989" height="40.29159999999999" fill="#c2c2c2" stroke="#555" stroke-width="0.7"/>
<line x1="233.3" y1="238.00840000000002" x2="242.5" y2="238.00840000000002" stroke="#333" stroke-width="1.0"/>
<rect x="246.5" y="186.56560000000002" width="8.699999999999989" height="91.7344" fill="#c2c2c2" stroke="#555" stroke-width="0.7"/>
<line x1="246.5" y1="186.56560000000002" x2="255.2" y2="186.56560000000002" stroke="#333" stroke-width="1.0"/>
<line x1="250.85" y1="186.56560000000002" x2="250.85" y2="182.568" stroke="#555" stroke-width="0.7"/>
<rect x="264.9" y="271.5672" width="8.0" height="6.7327999999999975" fill="#000"/>
<line x1="268.9" y1="271.5672" x2="268.9" y2="267.0124" stroke="#111" stroke-width="0.75"/>
<rect x="278.0" y="271.2516" width="8.300000000000011" height="7.048400000000015" fill="#000"/>
<line x1="282.15" y1="271.2516" x2="282.15" y2="266.38120000000004" stroke="#111" stroke-width="0.75"/>
<rect x="290.0" y="264.9396" width="8.600000000000023" height="13.360400000000027" fill="#000"/>
<line x1="294.3" y1="264.9396" x2="294.3" y2="260.38480000000004" stroke="#111" stroke-width="0.75"/>
<rect x="303.7" y="258.312" width="9.199999999999989" height="19.988" fill="#000"/>
<line x1="308.29999999999995" y1="258.312" x2="308.29999999999995" y2="250.496" stroke="#111" stroke-width="0.75"/>
<rect x="318.0" y="247.0556" width="9.100000000000023" height="31.244400000000013" fill="#000"/>
<line x1="322.55" y1="247.0556" x2="322.55" y2="232.1912" stroke="#111" stroke-width="0.75"/>
<rect x="332.1" y="209.07840000000002" width="9.5" height="69.2216" fill="#000"/>
<line x1="336.85" y1="209.07840000000002" x2="336.85" y2="189.6904" stroke="#111" stroke-width="0.75"/>
<polygon points="238.10,222.60 238.78,224.37 240.67,224.47 239.19,225.66 239.69,227.48 238.10,226.45 236.51,227.48 237.01,225.66 235.53,224.47 237.42,224.37" fill="#000"/>
<polygon points="248.20,169.40 248.88,171.17 250.77,171.27 249.29,172.46 249.79,174.28 248.20,173.25 246.61,174.28 247.11,172.46 245.63,171.27 247.52,171.17" fill="#000"/>
<polygon points="254.10,169.40 254.78,171.17 256.67,171.27 255.19,172.46 255.69,174.28 254.10,173.25 252.51,174.28 253.01,172.46 251.53,171.27 253.42,171.17" fill="#000"/>
<polygon points="322.60,219.30 323.28,221.07 325.17,221.17 323.69,222.36 324.19,224.18 322.60,223.15 321.01,224.18 321.51,222.36 320.03,221.17 321.92,221.07" fill="#000"/>
<polygon points="333.90,176.80 334.58,178.57 336.47,178.67 334.99,179.86 335.49,181.68 333.90,180.65 332.31,181.68 332.81,179.86 331.33,178.67 333.22,178.57" fill="#000"/>
<polygon points="339.60,176.80 340.28,178.57 342.17,178.67 340.69,179.86 341.19,181.68 339.60,180.65 338.01,181.68 338.51,179.86 337.03,178.67 338.92,178.57" fill="#000"/>
<rect x="280.6" y="158.7" width="8.2" height="5.8" fill="#c2c2c2" stroke="#444" stroke-width="0.7"/>
<rect x="280.3" y="170.2" width="8.6" height="5.9" fill="#000"/>
<text x="294.6" y="164.1" font-size="8.0" font-weight="bold" fill="#000" stroke="#000" stroke-width="0.28">BA</text>
<text x="294.6" y="175.4" font-size="8.0" font-weight="bold" fill="#000" stroke="#000" stroke-width="0.28">FLT3-ITD</text>
<text x="209.6" y="289.9" font-size="8.5" font-weight="bold" text-anchor="middle" fill="#000" stroke="#000" stroke-width="0.28">co</text>
<text x="225.3" y="289.9" font-size="8.5" font-weight="bold" text-anchor="middle" fill="#000" stroke="#000" stroke-width="0.28">A</text>
<text x="237.6" y="289.9" font-size="8.5" font-weight="bold" text-anchor="middle" fill="#000" stroke="#000" stroke-width="0.28">V</text>
<text x="267.3" y="289.9" font-size="8.5" font-weight="bold" text-anchor="middle" fill="#000" stroke="#000" stroke-width="0.28">co</text>
<text x="282.9" y="289.9" font-size="8.5" font-weight="bold" text-anchor="middle" fill="#000" stroke="#000" stroke-width="0.28">A</text>
<text x="294.3" y="289.9" font-size="8.5" font-weight="bold" text-anchor="middle" fill="#000" stroke="#000" stroke-width="0.28">V</text>
<text transform="translate(255.6,287.5) rotate(-48)" font-size="8.5" font-weight="bold" text-anchor="end" stroke="#000" stroke-width="0.28">A+V</text>
<text transform="translate(312.0,285.6) rotate(-48)" font-size="8.5" font-weight="bold" text-anchor="end" stroke="#000" stroke-width="0.28">A+V</text>
<text transform="translate(324.3,286.8) rotate(-47)" font-size="8.5" font-weight="bold" text-anchor="end" stroke="#000" stroke-width="0.28">SH-6</text>
<text transform="translate(341.4,283.1) rotate(-47)" font-size="8.5" font-weight="bold" text-anchor="end" stroke="#000" stroke-width="0.28">A+V+</text>
<text transform="translate(347.3,287.4) rotate(-47)" font-size="8.5" font-weight="bold" text-anchor="end" stroke="#000" stroke-width="0.28">SH-6</text>
<text x="370.6" y="168.2" font-size="13.2" font-weight="bold" fill="#000" stroke="#000" stroke-width="0.28">E</text>
<text x="449.1" y="178.9" font-size="8.5" font-weight="bold" text-anchor="middle" fill="#000" stroke="#000" stroke-width="0.28">BA</text>
<text x="495.8" y="178.6" font-size="8.7" font-weight="bold" text-anchor="middle" fill="#000" letter-spacing="0.42" stroke="#000" stroke-width="0.28">FLT3-ITD</text>
<path d="M430.4,188.2 L430.4,185.6 L471.4,185.6 L471.4,188.2" stroke="#222" stroke-width="0.8" fill="none"/>
<path d="M475.1,188.2 L475.1,185.6 L515.7,185.6 L515.7,188.2" stroke="#222" stroke-width="0.8" fill="none"/>
<text x="395.2" y="195.3" font-size="7.4" fill="#111" stroke="#111" stroke-width="0.18">VPA</text>
<text x="395.2" y="204.2" font-size="7.6" fill="#111" stroke="#111" stroke-width="0.18">ATRA</text>
<text x="395.2" y="214.4" font-size="7.5" fill="#111" stroke="#111" stroke-width="0.18">SH6</text>
<text x="433.2" y="195.6" font-size="7.8" text-anchor="middle" fill="#444" stroke="#444" stroke-width="0.18">−</text>
<text x="444.9" y="195.6" font-size="7.8" text-anchor="middle" fill="#444" stroke="#444" stroke-width="0.18">−</text>
<text x="455.6" y="195.6" font-size="7.8" text-anchor="middle" fill="#444" stroke="#444" stroke-width="0.18">+</text>
<text x="468.3" y="195.6" font-size="7.8" text-anchor="middle" fill="#444" stroke="#444" stroke-width="0.18">+</text>
<text x="478.8" y="195.6" font-size="7.8" text-anchor="middle" fill="#444" stroke="#444" stroke-width="0.18">−</text>
<text x="489.2" y="195.6" font-size="7.8" text-anchor="middle" fill="#444" stroke="#444" stroke-width="0.18">+</text>
<text x="499.8" y="195.6" font-size="7.8" text-anchor="middle" fill="#444" stroke="#444" stroke-width="0.18">−</text>
<text x="510.0" y="195.6" font-size="7.8" text-anchor="middle" fill="#444" stroke="#444" stroke-width="0.18">+</text>
<text x="433.2" y="204.8" font-size="7.8" text-anchor="middle" fill="#444" stroke="#444" stroke-width="0.18">−</text>
<text x="444.9" y="204.8" font-size="7.8" text-anchor="middle" fill="#444" stroke="#444" stroke-width="0.18">+</text>
<text x="455.6" y="204.8" font-size="7.8" text-anchor="middle" fill="#444" stroke="#444" stroke-width="0.18">−</text>
<text x="468.3" y="204.8" font-size="7.8" text-anchor="middle" fill="#444" stroke="#444" stroke-width="0.18">+</text>
<text x="478.8" y="204.8" font-size="7.8" text-anchor="middle" fill="#444" stroke="#444" stroke-width="0.18">−</text>
<text x="489.2" y="204.8" font-size="7.8" text-anchor="middle" fill="#444" stroke="#444" stroke-width="0.18">+</text>
<text x="499.8" y="204.8" font-size="7.8" text-anchor="middle" fill="#444" stroke="#444" stroke-width="0.18">−</text>
<text x="510.0" y="204.8" font-size="7.8" text-anchor="middle" fill="#444" stroke="#444" stroke-width="0.18">+</text>
<text x="433.2" y="214.7" font-size="7.8" text-anchor="middle" fill="#444" stroke="#444" stroke-width="0.18">−</text>
<text x="444.9" y="214.7" font-size="7.8" text-anchor="middle" fill="#444" stroke="#444" stroke-width="0.18">−</text>
<text x="455.6" y="214.7" font-size="7.8" text-anchor="middle" fill="#444" stroke="#444" stroke-width="0.18">−</text>
<text x="468.3" y="214.7" font-size="7.8" text-anchor="middle" fill="#444" stroke="#444" stroke-width="0.18">−</text>
<text x="478.8" y="214.7" font-size="7.8" text-anchor="middle" fill="#444" stroke="#444" stroke-width="0.18">−</text>
<text x="489.2" y="214.7" font-size="7.8" text-anchor="middle" fill="#444" stroke="#444" stroke-width="0.18">−</text>
<text x="499.8" y="214.7" font-size="7.8" text-anchor="middle" fill="#444" stroke="#444" stroke-width="0.18">+</text>
<text x="510.0" y="214.7" font-size="7.8" text-anchor="middle" fill="#444" stroke="#444" stroke-width="0.18">+</text>
<rect x="430.0" y="218.9" width="40.19999999999999" height="9.5" fill="#c0c0c0"/>
<rect x="431.05" y="222.30" width="8.5" height="2.4" rx="1.20" fill="#2a2a2a" filter="url(#bl)"/>
<rect x="441.05" y="222.30" width="8.5" height="2.4" rx="1.20" fill="#222" filter="url(#bl)"/>
<rect x="450.75" y="222.30" width="8.5" height="2.4" rx="1.20" fill="#2a2a2a" filter="url(#bl)"/>
<rect x="460.45" y="222.30" width="8.5" height="2.4" rx="1.20" fill="#222" filter="url(#bl)"/>
<rect x="472.7" y="218.9" width="43.50000000000006" height="9.5" fill="#b0b0b0"/>
<rect x="474.45" y="222.40" width="8.5" height="2.4" rx="1.20" fill="#555" filter="url(#bl)"/>
<rect x="485.05" y="222.40" width="8.5" height="2.4" rx="1.20" fill="#333" filter="url(#bl)"/>
<rect x="495.25" y="222.40" width="8.5" height="2.4" rx="1.20" fill="#777" filter="url(#bl)"/>
<rect x="505.05" y="222.40" width="8.5" height="2.4" rx="1.20" fill="#a0a0a0" filter="url(#bl)"/>
<rect x="430.0" y="230.6" width="40.19999999999999" height="9.800000000000011" fill="#999999"/>
<rect x="430.80" y="233.50" width="9" height="4.0" rx="2.00" fill="#111" filter="url(#bl)"/>
<rect x="440.80" y="233.50" width="9" height="4.0" rx="2.00" fill="#111" filter="url(#bl)"/>
<rect x="450.50" y="233.50" width="9" height="4.0" rx="2.00" fill="#111" filter="url(#bl)"/>
<rect x="460.20" y="233.50" width="9" height="4.0" rx="2.00" fill="#111" filter="url(#bl)"/>
<rect x="472.7" y="230.6" width="43.50000000000006" height="9.800000000000011" fill="#c8c8c8"/>
<rect x="474.20" y="233.60" width="9" height="3.8" rx="1.90" fill="#000" filter="url(#bl)"/>
<rect x="484.80" y="233.60" width="9" height="3.8" rx="1.90" fill="#000" filter="url(#bl)"/>
<rect x="495.00" y="233.60" width="9" height="3.8" rx="1.90" fill="#000" filter="url(#bl)"/>
<rect x="430.0" y="242.6" width="40.19999999999999" height="10.099999999999994" fill="#aaaaaa"/>
<rect x="431.05" y="246.10" width="8.5" height="2.6" rx="1.30" fill="#444" filter="url(#bl)"/>
<rect x="441.05" y="246.10" width="8.5" height="2.6" rx="1.30" fill="#444" filter="url(#bl)"/>
<rect x="450.75" y="245.30" width="8.5" height="4.2" rx="2.10" fill="#111" filter="url(#bl)"/>
<rect x="460.45" y="245.30" width="8.5" height="4.2" rx="2.10" fill="#111" filter="url(#bl)"/>
<rect x="472.7" y="242.6" width="43.50000000000006" height="10.099999999999994" fill="#a8a8a8"/>
<rect x="474.20" y="245.60" width="9" height="3.6" rx="1.80" fill="#333" filter="url(#bl)"/>
<rect x="484.80" y="245.10" width="9" height="4.6" rx="2.30" fill="#111" filter="url(#bl)"/>
<rect x="495.00" y="245.60" width="9" height="3.6" rx="1.80" fill="#222" filter="url(#bl)"/>
<rect x="504.80" y="245.60" width="9" height="3.6" rx="1.80" fill="#888" filter="url(#bl)"/>
<rect x="430.0" y="255.0" width="40.19999999999999" height="9.600000000000023" fill="#b0b0b0"/>
<rect x="431.05" y="258.50" width="8.5" height="2.8" rx="1.40" fill="#2a2a2a" filter="url(#bl)"/>
<rect x="441.05" y="258.50" width="8.5" height="2.8" rx="1.40" fill="#404040" filter="url(#bl)"/>
<rect x="450.75" y="258.50" width="8.5" height="2.8" rx="1.40" fill="#404040" filter="url(#bl)"/>
<rect x="460.45" y="258.50" width="8.5" height="2.8" rx="1.40" fill="#606060" filter="url(#bl)"/>
<rect x="472.7" y="255.0" width="43.50000000000006" height="9.600000000000023" fill="#b8b8b8"/>
<rect x="473.95" y="257.50" width="9.5" height="4.8" rx="2.40" fill="#000" filter="url(#bl)"/>
<rect x="484.55" y="257.50" width="9.5" height="4.8" rx="2.40" fill="#000" filter="url(#bl)"/>
<rect x="494.75" y="257.50" width="9.5" height="4.8" rx="2.40" fill="#000" filter="url(#bl)"/>
<rect x="504.55" y="257.50" width="9.5" height="4.8" rx="2.40" fill="#111" filter="url(#bl)"/>
<rect x="430.0" y="266.8" width="40.19999999999999" height="10.0" fill="#999999"/>
<rect x="430.40" y="269.10" width="9.8" height="5.0" rx="2.50" fill="#000" filter="url(#bl)"/>
<rect x="440.40" y="269.10" width="9.8" height="5.0" rx="2.50" fill="#000" filter="url(#bl)"/>
<rect x="450.10" y="269.10" width="9.8" height="5.0" rx="2.50" fill="#000" filter="url(#bl)"/>
<rect x="459.80" y="269.10" width="9.8" height="5.0" rx="2.50" fill="#000" filter="url(#bl)"/>
<rect x="472.7" y="266.8" width="43.50000000000006" height="10.0" fill="#999999"/>
<rect x="473.70" y="269.10" width="10" height="5.0" rx="2.50" fill="#000" filter="url(#bl)"/>
<rect x="484.30" y="269.10" width="10" height="5.0" rx="2.50" fill="#000" filter="url(#bl)"/>
<rect x="494.50" y="269.10" width="10" height="5.0" rx="2.50" fill="#000" filter="url(#bl)"/>
<rect x="504.30" y="269.10" width="10" height="5.0" rx="2.50" fill="#000" filter="url(#bl)"/>
<text x="426.3" y="225.8" font-size="7.9" font-weight="bold" text-anchor="end" fill="#000" stroke="#000" stroke-width="0.18">p-Akt</text>
<text x="426.3" y="237.4" font-size="7.9" font-weight="bold" text-anchor="end" fill="#000" stroke="#000" stroke-width="0.18">Akt</text>
<text x="426.3" y="249.4" font-size="7.9" font-weight="bold" text-anchor="end" fill="#000" stroke="#000" stroke-width="0.18">pp70S6-kinase</text>
<text x="426.3" y="261.3" font-size="7.9" font-weight="bold" text-anchor="end" fill="#000" stroke="#000" stroke-width="0.18">p70S6-kinase</text>
<text x="426.3" y="273.3" font-size="7.9" font-weight="bold" text-anchor="end" fill="#000" stroke="#000" stroke-width="0.18">Actin</text>
</svg>
</body></html>
